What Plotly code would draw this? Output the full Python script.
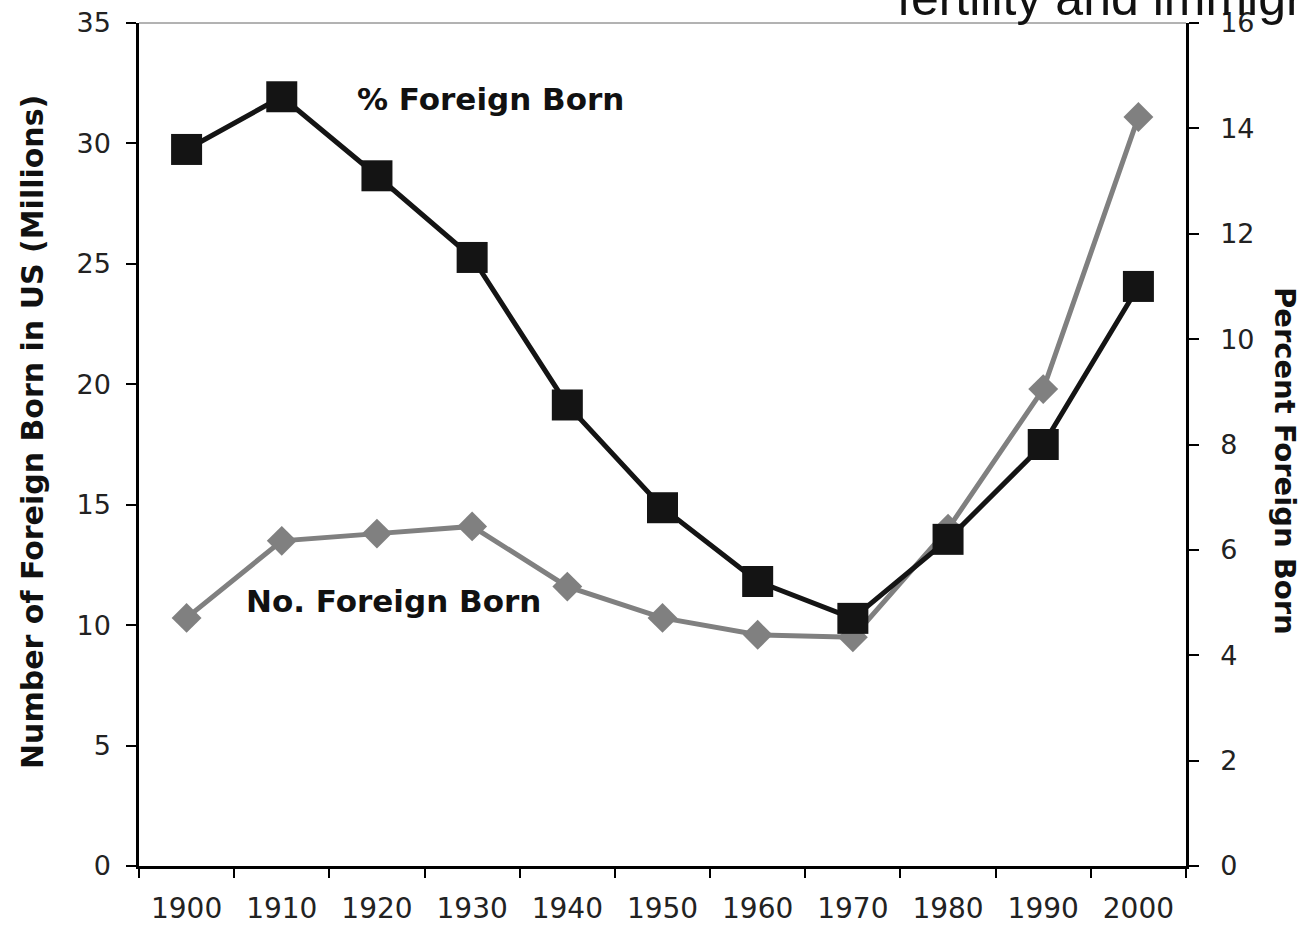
import plotly.graph_objects as go

years = ["1900", "1910", "1920", "1930", "1940", "1950", "1960", "1970", "1980", "1990", "2000"]
number_millions = [10.3, 13.5, 13.8, 14.1, 11.6, 10.3, 9.6, 9.5, 14.0, 19.8, 31.1]
percent_foreign = [13.6, 14.6, 13.1, 11.55, 8.75, 6.8, 5.4, 4.7, 6.2, 8.0, 11.0]

L, R, T, B = 139, 1186, 23, 866
PW, PH = R - L, B - T


def px(x):
    return (x - L) / PW


def py(y):
    return (B - y) / PH


fig = go.Figure()
fig.add_trace(go.Scatter(
    x=years, y=number_millions, mode="lines+markers", name="No. Foreign Born",
    line=dict(color="#808080", width=5),
    marker=dict(symbol="diamond", size=23, color="#808080"),
    yaxis="y", showlegend=False))
fig.add_trace(go.Scatter(
    x=years, y=percent_foreign, mode="lines+markers", name="% Foreign Born",
    line=dict(color="#141414", width=5),
    marker=dict(symbol="square", size=31, color="#141414"),
    yaxis="y2", showlegend=False))

tickfont = dict(family="DejaVu Sans", size=27, color="#222222")

fig.update_layout(
    width=1303, height=930,
    margin=dict(l=L, r=1303 - R, t=T, b=930 - B, autoexpand=False),
    paper_bgcolor="white", plot_bgcolor="white",
    xaxis=dict(type="category", range=[-0.5, 10.5], autorange=False,
               tickson="boundaries", ticks="outside", ticklen=9,
               tickcolor="black", tickwidth=1.5, showline=True, linecolor="black",
               linewidth=2.5, showgrid=False, zeroline=False, tickangle=0,
               automargin=False,
               tickfont=dict(family="DejaVu Sans", size=28, color="#222222"),
               ticklabelstandoff=16),
    yaxis=dict(range=[0, 35], autorange=False, dtick=5, ticks="outside", ticklen=10,
               tickcolor="black", automargin=False,
               tickwidth=1.5, showline=True, linecolor="black", linewidth=2.5,
               showgrid=False, zeroline=False, tickfont=tickfont, ticklabelstandoff=10),
    yaxis2=dict(range=[0, 16], autorange=False, dtick=2, overlaying="y", side="right",
                ticks="outside", automargin=False,
                ticklen=10, tickcolor="black", tickwidth=1.5, showline=True,
                linecolor="black", linewidth=2.5, showgrid=False, zeroline=False,
                tickfont=tickfont, ticklabelstandoff=16),
    shapes=[dict(type="line", xref="paper", yref="paper", x0=0, x1=1, y0=1, y1=1,
                 line=dict(color="#666666", width=1))],
    annotations=[
        dict(text="Number of Foreign Born in US (Millions)", xref="paper", yref="paper",
             x=px(32), y=py(432), xanchor="center", yanchor="middle", textangle=-90,
             showarrow=False, font=dict(family="DejaVu Sans", size=30, color="#111111", weight="bold")),
        dict(text="Percent Foreign Born", xref="paper", yref="paper",
             x=px(1285), y=py(461), xanchor="center", yanchor="middle",
             textangle=90, showarrow=False,
             font=dict(family="DejaVu Sans", size=29, color="#111111", weight="bold")),
        dict(text="% Foreign Born", xref="paper", yref="paper", x=px(490), y=py(99),
             xanchor="center", yanchor="middle", showarrow=False,
             font=dict(family="DejaVu Sans", size=31, color="#111111", weight="bold")),
        dict(text="No. Foreign Born", xref="paper", yref="paper", x=px(393), y=py(601),
             xanchor="center", yanchor="middle", showarrow=False,
             font=dict(family="DejaVu Sans", size=31, color="#111111", weight="bold")),
        dict(text="fertility and immigration", xref="paper", yref="paper",
             x=px(895), y=1, xanchor="left", yanchor="bottom", yshift=-5,
             showarrow=False, font=dict(family="Liberation Sans", size=50, color="#111111")),
    ],
)

fig.write_html("out.html", config={"displayModeBar": False},
               post_script="document.body.style.margin='0';document.body.style.overflow='hidden';")
